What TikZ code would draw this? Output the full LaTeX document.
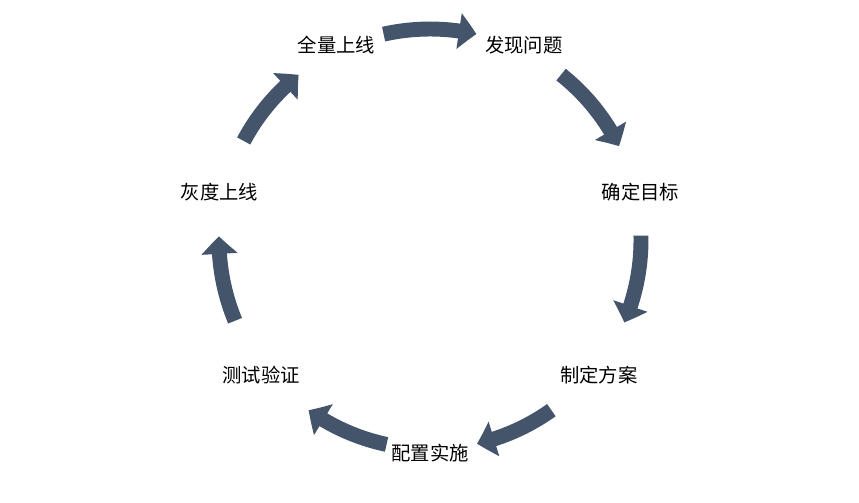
\documentclass[tikz,border=0pt]{standalone}
\usepackage{fontspec}
\newfontfamily\cjk{Noto Sans CJK SC}
\usetikzlibrary{arrows.meta, bending, calc}
\definecolor{arrowblue}{HTML}{44546A}

\begin{document}
\begin{tikzpicture}[
    stage/.style={font=\cjk\fontsize{11}{13}\selectfont, text=black, inner sep=1pt},
    cyc/.style={line width=8.5pt, arrowblue, -{Triangle[width=20pt, length=10pt, bend]}}
  ]
  \useasboundingbox (0,0) rectangle (17.18,10.04);
  \coordinate (c) at (8.6,5.24);

  % Stages
  \node[stage] (full)   at ([shift={(115.7:4.32)}]c) {全量上线};
  \node[stage] (find)   at ([shift={(64.3:4.32)}]c)  {发现问题};
  \node[stage] (goal)   at ([shift={(12.9:4.32)}]c)  {确定目标};
  \node[stage] (plan)   at ([shift={(-38.6:4.32)}]c) {制定方案};
  \node[stage] (deploy) at ([shift={(-90:4.26)}]c)   {配置实施};
  \node[stage] (test)   at ([shift={(-141.4:4.32)}]c){测试验证};
  \node[stage] (gray)   at ([shift={(167.1:4.32)}]c) {灰度上线};

  % Cycle arrows
  \draw[cyc] ([shift={(102.7:4.22)}]c) arc[start angle=102.7, end angle=77.3, radius=4.22];
  \draw[cyc] ([shift={(51.6:4.22)}]c) arc[start angle=51.6, end angle=26.4, radius=4.22];
  \draw[cyc] ([shift={(1.2:4.22)}]c) arc[start angle=1.2, end angle=-23, radius=4.22];
  \draw[cyc] ([shift={(-54.5:4.18)}]c) arc[start angle=-54.5, end angle=-77, radius=4.18];
  \draw[cyc] ([shift={(-102:4.18)}]c) arc[start angle=-102, end angle=-125.5, radius=4.18];
  \draw[cyc] ([shift={(-157.5:4.22)}]c) arc[start angle=-157.5, end angle=-181, radius=4.22];
  \draw[cyc] ([shift={(152:4.22)}]c) arc[start angle=152, end angle=128.5, radius=4.22];
\end{tikzpicture}
\end{document}
